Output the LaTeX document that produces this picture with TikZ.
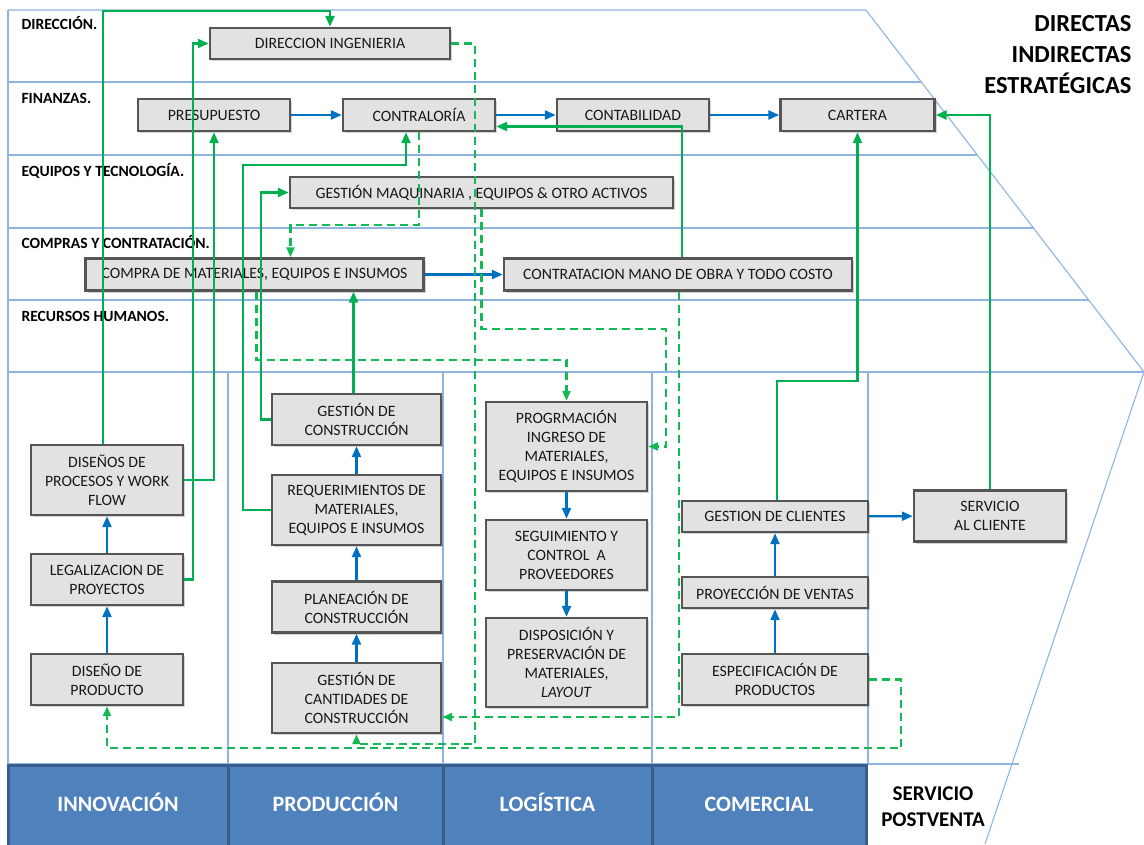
\documentclass[tikz,border=0pt]{standalone}
\usepackage{fontspec}
\setmainfont{Carlito}
\usetikzlibrary{arrows.meta,shadows}
\definecolor{lane}{RGB}{141,180,226}
\definecolor{gsolid}{RGB}{0,176,80}
\definecolor{gdash}{RGB}{20,185,85}
\definecolor{bflow}{RGB}{0,112,192}
\definecolor{boxfill}{RGB}{226,226,226}
\definecolor{boxline}{RGB}{85,85,85}
\definecolor{boxtext}{RGB}{25,25,25}
\definecolor{bandfill}{RGB}{79,129,189}
\definecolor{bandline}{RGB}{56,93,138}
\begin{document}
\begin{tikzpicture}[x=1pt,y=-1pt,
  proc/.style={draw=boxline, line width=2.4pt, fill=boxfill, text=boxtext,
    align=center, inner sep=2pt, font=\fontsize{15.8}{19}\selectfont,
    drop shadow={shadow xshift=2pt,shadow yshift=-2pt,opacity=0.35}},
  lanel/.style={lane, line width=1.1pt},
  rowlabel/.style={anchor=base west, font=\bfseries\fontsize{15.6}{18}\selectfont},
  bandcell/.style={fill=bandfill, draw=bandline, line width=3pt},
  bandlabel/.style={anchor=base, text=white, font=\bfseries\fontsize{22}{26}\selectfont},
  sidelabel/.style={anchor=base, font=\bfseries\fontsize{21}{26}\selectfont},
  kindlabel/.style={anchor=base east, font=\bfseries\fontsize{24.5}{31}\selectfont},
  flow/.style={bflow, line width=2.4pt, -{Triangle[length=11pt,width=9pt]}},
  link/.style={gsolid, line width=2.4pt, -{Triangle[length=11pt,width=9pt]}},
  linkd/.style={gdash, line width=2.4pt, dash pattern=on 8pt off 5pt,
    -{Triangle[length=10pt,width=8pt]}}]
\useasboundingbox (0,0) rectangle (1144,844);

% swim lanes of the support area (upper trapezoid)
\draw[lanel] (8,10) -- (866,10) -- (1144,372);
\draw[lanel] (8,82) -- (921.3,82);
\draw[lanel] (8,155) -- (977.4,155);
\draw[lanel] (8,228) -- (1033.5,228);
\draw[lanel] (8,300) -- (1088.7,300);
\draw[lanel] (8,372) -- (1144,372);
\draw[lanel] (8,10) -- (8,764);
% primary activity columns (lower trapezoid)
\draw[lanel] (1144,372) -- (985,844);
\draw[lanel] (8,764) -- (1019,764);
\foreach \xc in {228,443,652,868} \draw[lanel] (\xc,372) -- (\xc,764);

% bottom band
\draw[bandcell] (8,765) rectangle (228,852);
\draw[bandcell] (228,765) rectangle (443,852);
\draw[bandcell] (443,765) rectangle (652,852);
\draw[bandcell] (652,765) rectangle (866,852);
\node[bandlabel] (innov) at (118,811) {INNOVACIÓN};
\node[bandlabel] (produ) at (335.5,811) {PRODUCCIÓN};
\node[bandlabel] (logis) at (547.5,811) {LOGÍSTICA};
\node[bandlabel] (comer) at (759,811) {COMERCIAL};
\node[sidelabel] (postv1) at (933,800) {SERVICIO};
\node[sidelabel] (postv2) at (933,826) {POSTVENTA};

% activity kinds
\node[kindlabel] (kdir) at (1135,31) {DIRECTAS};
\node[kindlabel] (kind) at (1135,62) {INDIRECTAS};
\node[kindlabel] (kest) at (1135,93) {ESTRATÉGICAS};

% row titles
\node[rowlabel] (rdir) at (18,29.5) {DIRECCIÓN.};
\node[rowlabel] (rfin) at (18,103) {FINANZAS.};
\node[rowlabel] (requ) at (18,176) {EQUIPOS Y TECNOLOGÍA.};
\node[rowlabel] (rcom) at (18,248) {COMPRAS Y CONTRATACIÓN.};
\node[rowlabel] (rrhh) at (18,321) {RECURSOS HUMANOS.};

% support processes
\node[proc, minimum width=240pt, minimum height=31pt] (diring) at (330,43.5) {DIRECCION INGENIERIA};
\node[proc, minimum width=152pt, minimum height=32pt] (pres) at (214,115) {PRESUPUESTO};
\node[proc, minimum width=152pt, minimum height=32pt] (contra) at (419,115) {CONTRALORÍA};
\node[proc, minimum width=152pt, minimum height=32pt] (conta) at (633,115) {CONTABILIDAD};
\node[proc, minimum width=154pt, minimum height=32pt] (cart) at (857.5,115) {CARTERA};
\node[proc, minimum width=383pt, minimum height=31pt] (gmaq) at (481.5,192.5) {GESTIÓN MAQUINARIA , EQUIPOS \& OTRO ACTIVOS};
\node[proc, minimum width=338pt, minimum height=32pt] (compra) at (254.5,274.5) {COMPRA DE MATERIALES, EQUIPOS E INSUMOS};
\node[proc, minimum width=348pt, minimum height=32pt] (contrat) at (678,274.5) {CONTRATACION MANO DE OBRA Y TODO COSTO};

% innovation
\node[proc, minimum width=152pt, minimum height=70pt] (disenos) at (107,480) {DISEÑOS DE\\PROCESOS Y WORK\\FLOW};
\node[proc, minimum width=152pt, minimum height=51pt] (legal) at (107,579.5) {LEGALIZACION DE\\PROYECTOS};
\node[proc, minimum width=152pt, minimum height=51pt] (dprod) at (107,679.5) {DISEÑO DE\\PRODUCTO};
% production
\node[proc, minimum width=169pt, minimum height=51pt] (gcons) at (356.5,419.5) {GESTIÓN DE\\CONSTRUCCIÓN};
\node[proc, minimum width=169pt, minimum height=70pt] (req) at (356.5,510) {REQUERIMIENTOS DE\\MATERIALES,\\EQUIPOS E INSUMOS};
\node[proc, minimum width=169pt, minimum height=51pt] (plan) at (356.5,607) {PLANEACIÓN DE\\CONSTRUCCIÓN};
\node[proc, minimum width=169pt, minimum height=70pt] (cant) at (356.5,698) {GESTIÓN DE\\CANTIDADES DE\\CONSTRUCCIÓN};
% logistics
\node[proc, minimum width=161pt, minimum height=89pt] (prog) at (566.5,446.5) {PROGRMACIÓN\\INGRESO DE\\MATERIALES,\\EQUIPOS E INSUMOS};
\node[proc, minimum width=161pt, minimum height=70pt] (seg) at (566.5,555) {SEGUIMIENTO Y\\CONTROL\ \ A\\PROVEEDORES};
\node[proc, minimum width=161pt, minimum height=89pt] (disp) at (566.5,662.5) {DISPOSICIÓN Y\\PRESERVACIÓN DE\\MATERIALES,\\\textit{LAYOUT}};
% commercial
\node[proc, minimum width=186pt, minimum height=31pt] (gcli) at (775,516.5) {GESTION DE CLIENTES};
\node[proc, minimum width=186pt, minimum height=31pt] (proy) at (775,592.5) {PROYECCIÓN DE VENTAS};
\node[proc, minimum width=186pt, minimum height=51pt] (espec) at (775,679.5) {ESPECIFICACIÓN DE\\PRODUCTOS};
% after-sales
\node[proc, minimum width=152pt, minimum height=51pt] (serv) at (990,516) {SERVICIO\\AL CLIENTE};

% main flow
\draw[flow] (pres) -- (contra);
\draw[flow] (contra) -- (conta);
\draw[flow] (conta) -- (cart);
\draw[flow] (compra) -- (contrat);
\draw[flow] (dprod) -- (legal);
\draw[flow] (legal) -- (disenos);
\draw[flow] (cant) -- (plan);
\draw[flow] (plan) -- (req);
\draw[flow] (req) -- (gcons);
\draw[flow] (prog) -- (seg);
\draw[flow] (seg) -- (disp);
\draw[flow] (espec) -- (proy);
\draw[flow] (proy) -- (gcli);
\draw[flow] (gcli) -- (serv);

% support links
\draw[link] ([xshift=-4pt]disenos.north) -- ++(0,-433) -| (diring.north);
\draw[link] (legal.east) -- ++(9,0) |- (diring.west);
\draw[link] (disenos.east) -| (pres.south);
\draw[link] (gcons.west) -- ++(-10,0) |- (gmaq.west);
\draw[link] (req.west) -- ++(-28,0) -- ++(0,-345) -| ([xshift=-13pt]contra.south);
\coordinate (gup) at ([xshift=-3pt]gcons.north);
\draw[link] (gup) -- (gup |- compra.south);
\draw[link] ([xshift=4pt]contrat.north) |- ([yshift=-11.5pt]contra.east);
\draw[link] ([xshift=2pt]gcli.north) -- ++(0,-119) -| (cart.south);
\draw[link] (serv.north) |- (cart.east);

% information feedback
\draw[linkd] (diring.east) -- ++(24,0) -- ++(0,700.5) -| (cant.south);
\draw[linkd] (contra.south) -- ++(0,93) -| ([xshift=36pt]compra.north);
\draw[linkd] ([xshift=2pt]compra.south) -- ++(0,68) -| (prog.north);
\draw[linkd] (gmaq.south) -- ++(0,120) -- ++(184.5,0) |- (prog.east);
\draw[linkd] ([xshift=1pt]contrat.south) |- ([yshift=-19pt]cant.east);
\draw[linkd] (espec.east) -- ++(32,0) -- ++(0,68.5) -| (dprod.south);
\end{tikzpicture}
\end{document}
